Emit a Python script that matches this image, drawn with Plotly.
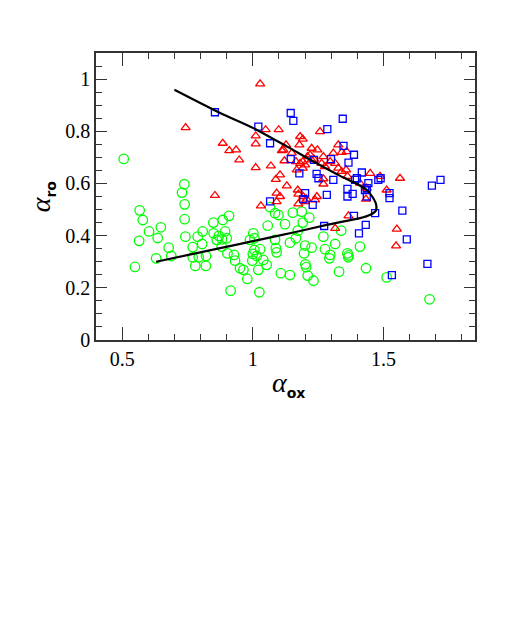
# -*- coding: utf-8 -*-
#
# alpha_ro vs alpha_ox: three samples plus a model track.

import plotly.graph_objects as go

# green circles
circ_x = [0.506, 0.738, 0.729, 0.739, 0.567, 0.579, 0.739, 0.648, 0.603, 0.849,
          0.885, 0.565, 0.636, 0.742, 0.808, 0.789, 0.850, 0.870, 0.862, 0.806,
          0.678, 0.770, 0.882, 0.688, 0.630, 0.770, 0.793, 0.821, 0.780, 0.820,
          0.549, 0.909, 0.894, 0.900, 0.881, 0.903, 0.928, 0.932, 0.951, 0.964,
          0.979, 0.915, 1.025, 1.057, 1.085, 1.098, 1.123, 1.153, 1.187, 1.216,
          1.191, 1.172, 1.165, 1.142, 1.085, 1.088, 1.091, 1.002, 1.006, 0.989,
          1.028, 1.006, 1.000, 1.015, 0.998, 1.040, 1.053, 1.021, 1.107, 1.142,
          1.200, 1.196, 1.225, 1.201, 1.204, 1.210, 1.232, 1.270, 1.276, 1.296,
          1.293, 1.315, 1.330, 1.362, 1.365, 1.366, 1.066, 1.338, 1.410, 1.433,
          1.512, 1.676]
circ_y = [0.694, 0.597, 0.565, 0.520, 0.497, 0.460, 0.463, 0.432, 0.416, 0.450,
          0.460, 0.380, 0.391, 0.396, 0.416, 0.396, 0.409, 0.399, 0.384, 0.368,
          0.354, 0.356, 0.386, 0.322, 0.313, 0.317, 0.317, 0.322, 0.284, 0.284,
          0.280, 0.476, 0.416, 0.390, 0.358, 0.332, 0.326, 0.304, 0.275, 0.269,
          0.234, 0.189, 0.183, 0.438, 0.486, 0.479, 0.444, 0.488, 0.492, 0.469,
          0.450, 0.419, 0.390, 0.373, 0.384, 0.352, 0.336, 0.409, 0.390, 0.384,
          0.348, 0.345, 0.330, 0.322, 0.304, 0.307, 0.288, 0.269, 0.256, 0.249,
          0.362, 0.332, 0.354, 0.290, 0.279, 0.247, 0.227, 0.396, 0.348, 0.326,
          0.313, 0.368, 0.262, 0.332, 0.317, 0.324, 0.509, 0.419, 0.358, 0.275,
          0.240, 0.156]

# red triangles
tri_x = [1.028, 0.743, 0.855, 0.885, 0.910, 0.936, 0.948, 1.011, 1.011, 1.049,
         1.099, 1.011, 1.069, 1.088, 1.104, 1.117, 1.127, 1.111, 1.149, 1.121,
         1.130, 1.091, 1.104, 1.031, 1.091, 1.178, 1.181, 1.191, 1.257, 1.225,
         1.247, 1.219, 1.209, 1.165, 1.181, 1.191, 1.225, 1.234, 1.270, 1.308,
         1.327, 1.340, 1.359, 1.168, 1.191, 1.200, 1.263, 1.276, 1.315, 1.327,
         1.340, 1.357, 1.270, 1.270, 1.172, 1.174, 1.193, 1.206, 1.245, 1.174,
         1.200, 1.238, 1.362, 1.410, 1.449, 1.487, 1.563, 1.512, 1.436, 1.433,
         1.366, 1.551, 1.548, 1.315, 1.296]
tri_y = [0.982, 0.814, 0.554, 0.754, 0.726, 0.729, 0.690, 0.782, 0.752, 0.806,
         0.806, 0.661, 0.667, 0.616, 0.633, 0.729, 0.748, 0.726, 0.716, 0.687,
         0.591, 0.563, 0.550, 0.514, 0.530, 0.748, 0.780, 0.770, 0.799, 0.735,
         0.729, 0.710, 0.703, 0.684, 0.677, 0.684, 0.690, 0.693, 0.703, 0.716,
         0.748, 0.719, 0.722, 0.652, 0.659, 0.671, 0.677, 0.665, 0.677, 0.659,
         0.646, 0.652, 0.618, 0.598, 0.575, 0.559, 0.550, 0.540, 0.550, 0.522,
         0.530, 0.537, 0.627, 0.601, 0.639, 0.627, 0.620, 0.575, 0.582, 0.540,
         0.476, 0.425, 0.361, 0.428, 0.684]

# blue squares
sq_x = [0.855, 1.021, 1.066, 1.066, 1.145, 1.155, 1.344, 1.285, 1.347, 1.387,
        1.234, 1.145, 1.299, 1.366, 1.178, 1.244, 1.251, 1.308, 1.398, 1.391,
        1.417, 1.442, 1.436, 1.480, 1.489, 1.523, 1.523, 1.685, 1.718, 1.362,
        1.362, 1.382, 1.283, 1.200, 1.193, 1.429, 1.229, 1.387, 1.468, 1.432,
        1.406, 1.572, 1.589, 1.668, 1.532, 1.273, 1.436]
sq_y = [0.873, 0.818, 0.754, 0.531, 0.870, 0.840, 0.848, 0.808, 0.744, 0.710,
        0.690, 0.693, 0.693, 0.680, 0.639, 0.637, 0.620, 0.614, 0.620, 0.614,
        0.642, 0.601, 0.582, 0.614, 0.620, 0.563, 0.544, 0.592, 0.614, 0.579,
        0.550, 0.560, 0.556, 0.563, 0.540, 0.575, 0.518, 0.476, 0.486, 0.441,
        0.409, 0.496, 0.386, 0.292, 0.249, 0.437, 0.550]

# model track
track_x = [0.700, 0.875, 1.002, 1.130, 1.232, 1.334, 1.398, 1.436, 1.458, 1.472,
           1.470, 1.449, 1.410, 1.334, 1.283, 1.155, 1.028, 0.875, 0.630]
track_y = [0.959, 0.870, 0.812, 0.742, 0.684, 0.629, 0.598, 0.575, 0.548, 0.518,
           0.495, 0.480, 0.467, 0.452, 0.441, 0.412, 0.385, 0.352, 0.300]

fig = go.Figure()

fig.add_trace(go.Scatter(
    x=circ_x, y=circ_y, mode='markers',
    marker=dict(symbol='circle-open', size=9.5, color='#00ff00',
                line=dict(width=1.3, color='#00ff00'))
))
fig.add_trace(go.Scatter(
    x=tri_x, y=tri_y, mode='markers',
    marker=dict(symbol='triangle-up-open', size=8, color='#ff0000',
                line=dict(width=1.3, color='#ff0000'))
))
fig.add_trace(go.Scatter(
    x=sq_x, y=sq_y, mode='markers',
    marker=dict(symbol='square-open', size=7, color='#0000ff',
                line=dict(width=1.3, color='#0000ff'))
))
fig.add_trace(go.Scatter(
    x=track_x, y=track_y, mode='lines',
    line=dict(color='black', width=2.2, shape='spline', smoothing=0.8)
))

serif = 'Liberation Serif, Times New Roman, serif'
tickfont = dict(family=serif, size=20, color='black')
common = dict(
    showgrid=False, zeroline=False,
    showline=True, linecolor='#333333', linewidth=1.5, mirror='ticks',
    ticks='inside', tickcolor='#333333', tickwidth=1.2,
    tickfont=tickfont,
)

# page body has an 8px margin, so the margins are shifted by it
fig.update_layout(
    width=518, height=627,
    margin=dict(l=88, r=51, t=45, b=295),
    paper_bgcolor='white', plot_bgcolor='white',
    showlegend=False,
    xaxis=dict(range=[0.4, 1.85], ticklen=13,
               tickvals=[0.5, 1, 1.5], ticktext=['0.5', '1', '1.5'],
               minor=dict(dtick=0.1, tick0=0.4, ticks='inside', ticklen=6,
                          tickcolor='#333333', tickwidth=1.2),
               **common),
    yaxis=dict(range=[0, 1.1], ticklen=11,
               tickvals=[0, 0.2, 0.4, 0.6, 0.8, 1],
               ticktext=['0', '0.2', '0.4', '0.6', '0.8', '1'],
               minor=dict(dtick=0.05, tick0=0, ticks='inside', ticklen=6,
                          tickcolor='#333333', tickwidth=1.2),
               **common),
    annotations=[
        dict(text="<i>α</i><sub><span style='font-family:DejaVu Sans;font-size:14px'><b>ox</b></span></sub>",
             xref='paper', yref='paper', x=0.507, y=-0.155,
             xanchor='center', yanchor='middle', showarrow=False,
             font=dict(family=serif, size=28, color='black')),
        dict(text="<i>α</i><sub><span style='font-family:DejaVu Sans;font-size:14px'><b>ro</b></span></sub>",
             xref='paper', yref='paper', x=-0.143, y=0.5,
             xanchor='center', yanchor='middle', showarrow=False, textangle=-90,
             font=dict(family=serif, size=28, color='black')),
    ],
)

fig.write_html("out.html")
